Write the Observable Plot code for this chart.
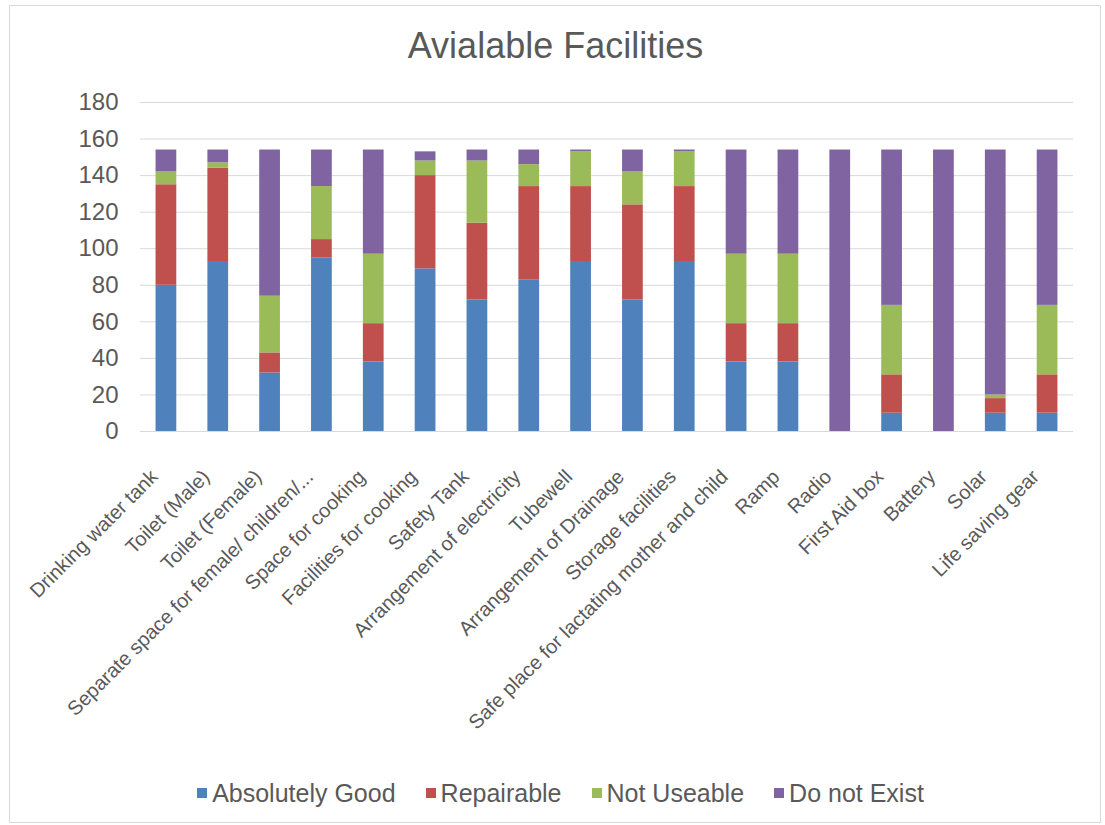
<!DOCTYPE html>
<html>
<head>
<meta charset="utf-8">
<script src="https://cdn.jsdelivr.net/npm/d3@7"></script>
<script src="https://cdn.jsdelivr.net/npm/@observablehq/plot@0.6"></script>
<style>
  html, body { margin: 0; padding: 0; background: #ffffff; }
  body { position: relative; width: 1105px; height: 825px; overflow: hidden;
         font-family: "Liberation Sans", Arial, sans-serif; color: #595959; }
  #frame { position: absolute; left: 9px; top: 5px; width: 1092px; height: 818px;
           border: 1px solid #d9d9d9; box-sizing: border-box; pointer-events: none; }
  #title { height: 80px; box-sizing: border-box; padding-top: 26px; line-height: 40px;
           font-size: 36px; text-align: center; padding-left: 6px; color: #595959; }
  #chart { height: 675px; }
  #chart svg { display: block; }
  #legend { display: flex; justify-content: center; align-items: center; height: 40px;
            margin-top: 18px; font-size: 25px; color: #595959; padding-left: 16px; }
  .item { display: flex; align-items: center; margin: 0 15px; }
  .sw { width: 10px; height: 10px; margin-right: 5px; }
</style>
</head>
<body>
<div id="frame"></div>
<div id="title">Avialable Facilities</div>
<div id="chart"></div>
<div id="legend"></div>
<script>
const categories = [
  "Drinking water tank", "Toilet (Male)", "Toilet (Female)",
  "Separate space for female/ children/...", "Space for cooking",
  "Facilities for cooking", "Safety Tank", "Arrangement of electricity",
  "Tubewell", "Arrangement of Drainage", "Storage facilities",
  "Safe place for lactating mother and child", "Ramp", "Radio",
  "First Aid box", "Battery", "Solar", "Life saving gear"
];
const absolutelyGood = [80, 93, 32, 95, 38, 89, 72, 83, 93, 72, 93, 38, 38, 0, 10, 0, 10, 10];
const repairable     = [55, 51, 11, 10, 21, 51, 42, 51, 41, 52, 41, 21, 21, 0, 21, 0, 8, 21];
const notUseable     = [7, 3, 31, 29, 38, 8, 34, 12, 19, 18, 19, 38, 38, 0, 38, 0, 2, 38];
const doNotExist     = [12, 7, 80, 20, 57, 5, 6, 8, 1, 12, 1, 57, 57, 154, 85, 154, 134, 85];
const seriesNames = ["Absolutely Good", "Repairable", "Not Useable", "Do not Exist"];
const seriesColors = ["#4F81BD", "#C0504D", "#9BBB59", "#8064A2"];
const yTicks = [0, 20, 40, 60, 80, 100, 120, 140, 160, 180];

const seriesValues = [absolutelyGood, repairable, notUseable, doNotExist];
const data = categories.flatMap((c, i) =>
  seriesNames.map((s, k) => ({category: c, series: s, value: seriesValues[k][i]}))
);

const plot = Plot.plot({
  width: 1105,
  height: 675,
  marginTop: 22,
  marginBottom: 324,
  marginLeft: 140,
  marginRight: 32,
  style: {fontFamily: "'Liberation Sans', Arial, sans-serif", color: "#595959", background: "transparent"},
  x: {domain: categories, paddingInner: 0.6, paddingOuter: 0.3, round: false, label: null},
  y: {domain: [0, 180], label: null},
  color: {domain: seriesNames, range: seriesColors},
  marks: [
    Plot.gridY(yTicks, {stroke: "#d9d9d9", strokeOpacity: 1, strokeWidth: 1}),
    Plot.barY(data, {x: "category", y: "value", fill: "series"}),
    Plot.axisY(yTicks, {tickSize: 0, tickPadding: 22, fontSize: 24, fill: "#595959", label: null}),
    Plot.axisX({tickSize: 0, tickPadding: 42, dx: -12, tickRotate: -45, fontSize: 20, fill: "#595959", label: null})
  ]
});
document.getElementById("chart").appendChild(plot);

const legend = document.getElementById("legend");
seriesNames.forEach((name, k) => {
  const item = document.createElement("div");
  item.className = "item";
  const sw = document.createElement("span");
  sw.className = "sw";
  sw.style.background = seriesColors[k];
  const label = document.createElement("span");
  label.textContent = name;
  item.appendChild(sw);
  item.appendChild(label);
  legend.appendChild(item);
});
</script>
</body>
</html>
